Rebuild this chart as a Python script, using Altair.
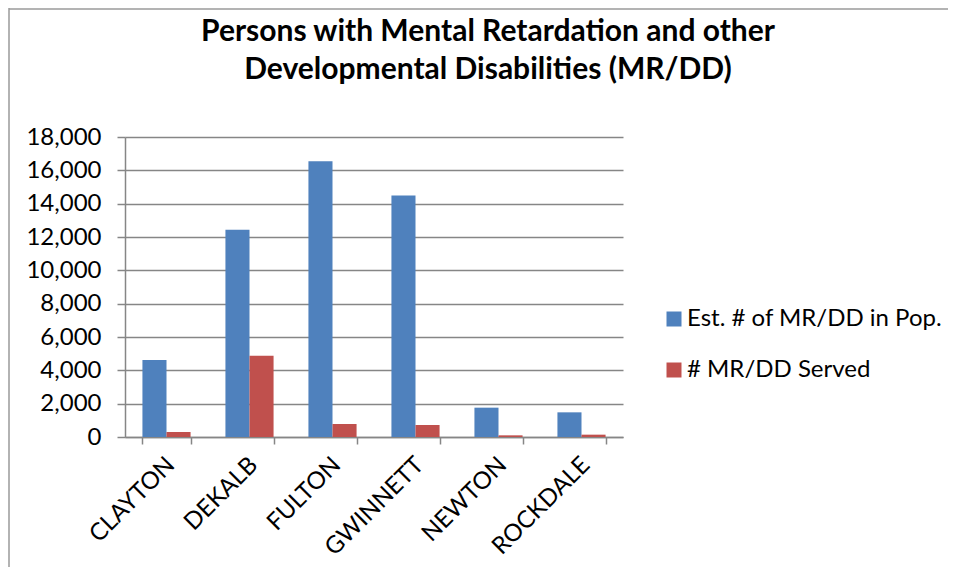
import altair as alt
import pandas as pd

counties = ["CLAYTON", "DEKALB", "FULTON", "GWINNETT", "NEWTON", "ROCKDALE"]
est_pop = [4620, 12440, 16550, 14490, 1760, 1480]
served = [300, 4870, 780, 720, 100, 140]
series_names = ["Est. # of MR/DD in Pop.", "# MR/DD Served"]
series_colors = ["#4F81BD", "#C0504D"]
y_ticks = list(range(0, 18001, 2000))

rows = []
for c, a, b in zip(counties, est_pop, served):
    rows.append({"county": c, "series": series_names[0], "value": a})
    rows.append({"county": c, "series": series_names[1], "value": b})
df = pd.DataFrame(rows)

FONT = "Lato"
W, H = 498, 300

bars = alt.Chart(df).mark_bar().encode(
    x=alt.X("county:N", sort=counties, title=None,
            scale=alt.Scale(paddingInner=0.42, paddingOuter=0.21),
            axis=alt.Axis(labelAngle=-45, labelAlign="right", labelBaseline="middle",
                          labelPadding=17, labelOffset=4, tickSize=7, tickBand="extent",
                          labelFontSize=24, labelFont=FONT, labelColor="#000000",
                          domainColor="#868686", tickColor="#868686", domainWidth=1.5,
                          tickWidth=1.5, grid=False)),
    xOffset=alt.XOffset("series:N", sort=series_names),
    y=alt.Y("value:Q", title=None,
            scale=alt.Scale(domain=[0, 18000], nice=False),
            axis=alt.Axis(values=y_ticks, format=",.0f", tickSize=8, labelPadding=16,
                          labelFontSize=24, labelFont=FONT, labelColor="#000000",
                          domainColor="#868686", tickColor="#868686", domainWidth=1.5,
                          tickWidth=1.5, gridColor="#868686", gridWidth=1.3)),
    color=alt.Color("series:N", sort=series_names,
                    scale=alt.Scale(domain=series_names, range=series_colors),
                    legend=alt.Legend(title=None, orient="none", legendX=537, legendY=170,
                                      symbolType="square", symbolSize=225,
                                      symbolStrokeWidth=0, labelFontSize=24,
                                      labelFont=FONT, labelColor="#000000",
                                      labelOffset=1, rowPadding=27, labelLimit=400)),
)

frame_left = alt.Chart(pd.DataFrame({"k": [0]})).mark_rule(color="#9a9a9a", strokeWidth=1.5).encode(
    x=alt.value(-116), y=alt.value(-129), y2=alt.value(H + 140))
frame_top = alt.Chart(pd.DataFrame({"k": [0]})).mark_rule(color="#9a9a9a", strokeWidth=1.5).encode(
    y=alt.value(-128), x=alt.value(-116), x2=alt.value(W + 330))

chart = alt.layer(bars, frame_left, frame_top).properties(
    width=W, height=H,
    autosize=alt.AutoSizeParams(type="none"),
    padding={"left": 117, "top": 129, "right": 325, "bottom": 130},
    title=alt.TitleParams(
        text=["Persons with Mental Retardation and other",
              "Developmental Disabilities (MR/DD)"],
        font=FONT, fontSize=30, fontWeight="bold", color="#000000",
        lineHeight=38, anchor="middle", dx=114, offset=-78),
).configure_view(stroke=None)

chart.save("out.html", embed_options={"renderer": "svg", "actions": False})
